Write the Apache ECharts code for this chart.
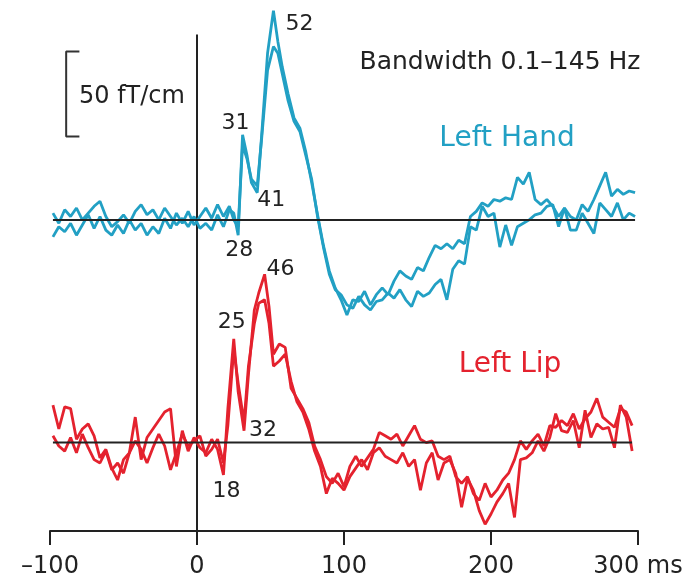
<!DOCTYPE html>
<html>
<head>
<meta charset="utf-8">
<script src="https://cdn.jsdelivr.net/npm/echarts@6/dist/echarts.min.js"></script>
<style>
  html, body { margin: 0; padding: 0; background: #fff; }
  #chart { width: 688px; height: 582px; }
</style>
</head>
<body>
<div id="chart"></div>
<script>
// Evoked field responses (fT/cm), time in ms relative to stimulus onset.
// Left hand channel: sample times and two superimposed traces.
const HAND_T = [
  -98,-94,-90,-86,-82,-78,-74,-70,-66,-62,-58,-54,-50,-46,-42,-38,-34,-30,-26,-22,-18,-14,-10,-6,-2,2,6,10,14,18,22,
  25,28,31,34,37,41,44,48,52,55,58,62,66,70,
  74,78,82,86,90,94,98,102,106,110,114,118,122,126,130,134,138,142,146,150,154,158,162,166,170,174,178,182,186,190,
  194,198,202,206,210,214,218,222,226,230,234,238,242,246,250,254,258,262,266,270,274,278,282,286,290,294,298
];
const HAND_A = [
  4,-2,6,2,7,0,4,8,11,2,-4,-1,3,-2,5,9,3,6,0,7,2,-3,1,-4,2,-5,-2,-6,3,-4,6,
  4,-9,50,38,22,16,50,98,123,105,90,74,60,54,
  40,22,3,-15,-30,-40,-47,-56,-47,-48,-42,-50,-44,-40,-44,-36,-30,-33,-35,-28,-30,-22,-15,-17,-14,-17,-12,-14,2,5,
  10,8,12,11,13,12,25,21,28,12,9,12,8,2,7,2,0,9,5,12,20,28,14,18,15,17,16
];
const HAND_B = [
  -10,-4,-7,-2,-9,-3,3,-5,2,-6,-9,-3,-8,0,-6,-2,-9,-4,-8,1,-5,4,-2,5,-3,2,7,1,9,2,8,
  0,-4,44,36,24,20,48,88,102,98,86,70,58,52,
  38,24,2,-16,-32,-41,-44,-50,-52,-45,-50,-53,-48,-47,-43,-46,-41,-47,-51,-42,-45,-43,-38,-35,-47,-29,-24,-26,-4,-6,
  8,2,4,-16,-3,-15,-4,-2,0,3,4,8,9,-4,7,-6,-6,4,-2,-8,10,6,2,10,0,4,2
];

// Left lip channel: sample times and two superimposed traces.
const LIP_T = [
  -98,-94,-90,-86,-82,-78,-74,-70,-66,-62,-58,-54,-50,-46,-42,-38,-34,-30,-26,-22,-18,-14,-10,-6,-2,2,6,10,14,
  18,21,25,28,32,35,39,42,46,49,52,56,60,64,68,72,
  76,80,84,88,92,96,100,104,108,112,116,120,124,128,132,136,140,144,148,152,156,160,164,168,172,176,180,184,188,192,
  196,200,204,208,212,216,220,224,228,232,236,240,244,248,252,256,260,264,268,272,276,280,284,288,292,296
];
const LIP_A = [
  22,8,21,20,2,8,11,4,-9,-4,-15,-22,-10,-6,15,-10,3,8,13,18,20,-14,7,-5,3,-3,-6,2,-4,
  -19,20,61,30,7,40,78,88,99,80,52,58,56,32,26,20,
  12,-2,-10,-20,-24,-18,-26,-14,-8,-14,-9,-4,6,4,2,5,-2,4,10,2,0,1,-8,-10,-8,-20,-24,-20,-30,-34,
  -24,-32,-28,-22,-18,-10,1,-4,1,5,-2,10,9,13,10,17,8,14,18,26,15,12,9,20,18,10
];
const LIP_B = [
  4,-2,-5,3,-6,5,-3,-10,-12,-5,-16,-12,-18,-6,1,-4,-12,-3,5,-2,-16,-6,5,-2,1,4,-8,-4,2,
  -12,10,55,35,12,45,70,82,84,70,45,48,52,36,24,18,
  8,-5,-14,-30,-21,-24,-28,-20,-15,-10,-16,-6,-3,-8,-10,-12,-6,-14,-10,-28,-12,-6,-22,-12,-10,-18,-38,-21,-28,-40,
  -48,-42,-35,-30,-24,-44,-10,-9,-6,1,-5,3,17,7,6,13,-3,19,3,11,8,9,-3,22,15,-5
];

// Latency annotations (ms) for each channel
const HAND_PEAKS = [31, 52];
const HAND_TROUGHS = [28, 41];
const LIP_PEAKS = [25, 46];
const LIP_TROUGHS = [18, 32];

const X_TICKS = [-100, 0, 100, 200, 300];
const SCALE_BAR = 50; // fT/cm

// vertical stacking of the two channels
const LIP_OFFSET = 0;
const HAND_OFFSET = 131;

// extent of the value axis and of the stimulus-onset line
const Y_MIN = -52;
const Y_MAX = 258;
const ONSET_TOP = 240;

const BLUE = '#22a0c4';
const RED = '#e4222e';
const INK = '#222';
const FONT = 'DejaVu Sans';

function pairs(times, vals, off) {
  return times.map((t, i) => [t, vals[i] + off]);
}

// label attached to a sample of a trace, shifted by a pixel offset
function latencyLabel(times, vals, off, t, dx, dy) {
  const i = times.indexOf(t);
  return {
    coord: [t, vals[i] + off],
    value: t,
    symbol: 'circle',
    symbolSize: 0,
    label: {
      show: true, formatter: String(t), offset: [dx, dy],
      fontSize: 22, fontFamily: FONT, color: INK
    }
  };
}

const handMarks = [
  latencyLabel(HAND_T, HAND_A, HAND_OFFSET, HAND_PEAKS[0], -7, -12),
  latencyLabel(HAND_T, HAND_A, HAND_OFFSET, HAND_PEAKS[1], 26, 13),
  latencyLabel(HAND_T, HAND_A, HAND_OFFSET, HAND_TROUGHS[0], 1, 15),
  latencyLabel(HAND_T, HAND_A, HAND_OFFSET, HAND_TROUGHS[1], 14, 8)
];
const lipMarks = [
  latencyLabel(LIP_T, LIP_A, LIP_OFFSET, LIP_PEAKS[0], -2, -17),
  latencyLabel(LIP_T, LIP_A, LIP_OFFSET, LIP_PEAKS[1], 16, -5),
  latencyLabel(LIP_T, LIP_A, LIP_OFFSET, LIP_TROUGHS[0], 3, 16),
  latencyLabel(LIP_T, LIP_A, LIP_OFFSET, LIP_TROUGHS[1], 19, 0)
];

const barTop = 230;
const scaleBar = [[-80, barTop], [-89, barTop], [-89, barTop - SCALE_BAR], [-80, barTop - SCALE_BAR]];

function trace(data, color, marks) {
  const s = {
    type: 'line', data: data, showSymbol: false, symbol: 'none',
    lineStyle: { color: color, width: 2.8 }, z: 3, silent: true
  };
  if (marks) s.markPoint = { data: marks, silent: true, animation: false };
  return s;
}

function rule(data, z) {
  return {
    type: 'line', data: data, symbol: 'none',
    lineStyle: { color: INK, width: 2 }, z: z, silent: true
  };
}

const chart = echarts.init(document.getElementById('chart'), null, { renderer: 'canvas' });
chart.setOption({
  animation: false,
  backgroundColor: '#fff',
  grid: { left: 50, right: 50, top: 4, bottom: 51 },
  xAxis: {
    type: 'value', min: -100, max: 300, interval: 100,
    axisLine: { onZero: false, lineStyle: { color: INK, width: 2 } },
    axisTick: { show: true, length: 14, lineStyle: { color: INK, width: 2 } },
    splitLine: { show: false },
    axisLabel: {
      fontSize: 24, fontFamily: FONT, color: INK, margin: 24,
      customValues: X_TICKS,
      formatter: v => v === 300 ? '300 ms' : (v < 0 ? '\u2013' + Math.abs(v) : String(v))
    }
  },
  yAxis: {
    type: 'value', min: Y_MIN, max: Y_MAX,
    axisLine: { show: false },
    axisTick: { show: false }, axisLabel: { show: false }, splitLine: { show: false }
  },
  series: [
    rule([[0, Y_MIN], [0, ONSET_TOP]], 2),
    trace(pairs(HAND_T, HAND_B, HAND_OFFSET), BLUE),
    trace(pairs(HAND_T, HAND_A, HAND_OFFSET), BLUE, handMarks),
    trace(pairs(LIP_T, LIP_B, LIP_OFFSET), RED),
    trace(pairs(LIP_T, LIP_A, LIP_OFFSET), RED, lipMarks),
    rule([[HAND_T[0], HAND_OFFSET], [HAND_T[HAND_T.length - 1], HAND_OFFSET]], 5),
    rule([[LIP_T[0], LIP_OFFSET], [LIP_T[LIP_T.length - 1], LIP_OFFSET]], 5),
    { type: 'line', data: scaleBar, symbol: 'none', lineStyle: { color: '#333', width: 2 }, silent: true }
  ],
  graphic: [
    { type: 'text', left: 79, top: 85, style: { text: '50 fT/cm', font: '24px "DejaVu Sans"', fill: INK } },
    { type: 'text', x: 500, y: 62, style: { text: 'Bandwidth 0.1\u2013145 Hz', font: '25px "DejaVu Sans"', fill: INK, align: 'center', verticalAlign: 'middle' } },
    { type: 'text', x: 507, y: 139, style: { text: 'Left Hand', font: '28px "DejaVu Sans"', fill: BLUE, align: 'center', verticalAlign: 'middle' } },
    { type: 'text', x: 510, y: 365, style: { text: 'Left Lip', font: '28px "DejaVu Sans"', fill: RED, align: 'center', verticalAlign: 'middle' } }
  ]
});
</script>
</body>
</html>
